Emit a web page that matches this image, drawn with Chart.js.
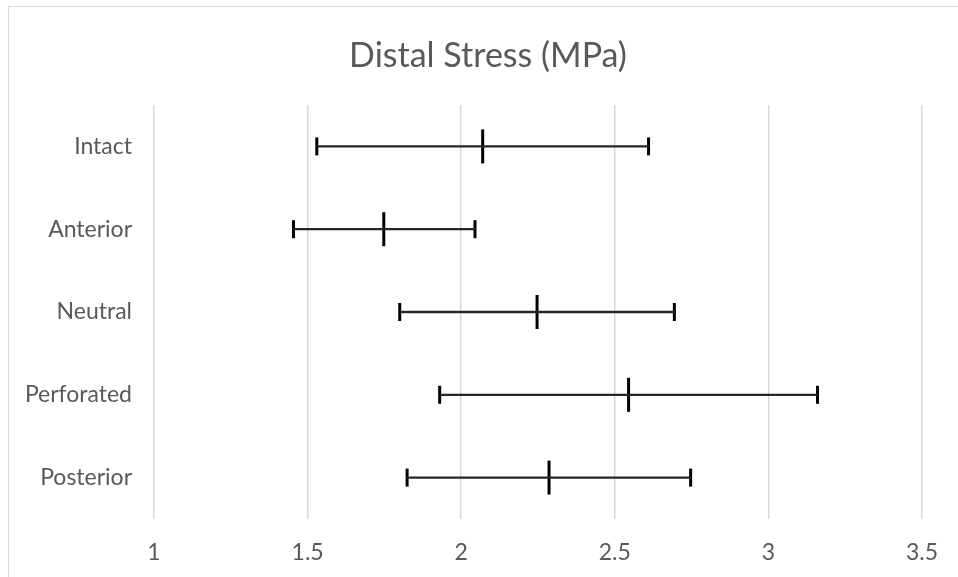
<!DOCTYPE html>
<html>
<head>
<meta charset="utf-8">
<title>Distal Stress</title>
<script src="https://cdn.jsdelivr.net/npm/chart.js@4"></script>
<style>
    html, body { margin: 0; padding: 0; background: #fff; overflow: hidden; }
    #wrap { position: relative; width: 958px; height: 577px; }
    #frame {
        position: absolute; left: 8px; top: 6px; width: 1000px; height: 1000px;
        border: 1px solid #d9d9d9; pointer-events: none;
    }
</style>
</head>
<body>
<div id="wrap">
    <canvas id="stressChart" width="958" height="577"></canvas>
    <div id="frame"></div>
</div>
<script>
// 원위부 응력 (MPa) - 최소 / 평균 / 최대
const categories = ['Intact', 'Anterior', 'Neutral', 'Perforated', 'Posterior'];
const minValues  = [1.53, 1.454, 1.80, 1.93, 1.824];
const meanValues = [2.07, 1.748, 2.247, 2.545, 2.286];
const maxValues  = [2.61, 2.045, 2.694, 3.16, 2.747];

const axisMin = 1;
const axisMax = 3.5;
const axisStep = 0.5;

const chartTitle = 'Distal Stress (MPa)';
const textColor = '#595959';
const fontFamily = 'Lato, "Open Sans", sans-serif';

// 범위 막대 (최소~최대)
const ranges = categories.map((c, i) => [minValues[i], maxValues[i]]);

// 수직 눈금 표시용 포인트 데이터셋
function tickSet(label, data, halfLength) {
    return {
        type: 'line',
        label: label,
        data: data,
        showLine: false,
        pointStyle: 'line',
        rotation: 90,
        pointRadius: halfLength,
        pointHoverRadius: halfLength,
        pointBorderWidth: 3,
        pointBorderColor: '#000',
        pointBackgroundColor: '#000'
    };
}

// 제목은 바깥 테두리 기준 가운데에 직접 그림
const frameTitle = {
    id: 'frameTitle',
    afterDraw(chart) {
        const c = chart.ctx;
        c.save();
        c.fillStyle = textColor;
        c.font = '34px ' + fontFamily;
        c.textAlign = 'center';
        c.textBaseline = 'middle';
        c.fillText(chartTitle, 488, 56);
        c.restore();
    }
};

const ctx = document.getElementById('stressChart').getContext('2d');
new Chart(ctx, {
    type: 'bar',
    data: {
        labels: categories,
        datasets: [
            {
                label: 'Range',
                data: ranges,
                backgroundColor: '#262626',
                barThickness: 1.6,
                borderSkipped: false
            },
            tickSet('Min', minValues, 9),
            tickSet('Max', maxValues, 9),
            tickSet('Mean', meanValues, 17)
        ]
    },
    plugins: [frameTitle],
    options: {
        indexAxis: 'y',
        responsive: false,
        animation: false,
        layout: { padding: { left: 0, right: 34, top: 105, bottom: 0 } },
        plugins: {
            legend: { display: false },
            tooltip: { enabled: false },
            title: { display: false }
        },
        scales: {
            x: {
                type: 'linear',
                min: axisMin,
                max: axisMax,
                ticks: {
                    stepSize: axisStep,
                    color: textColor,
                    font: { family: fontFamily, size: 23 },
                    padding: 20,
                    callback: (v) => String(v)
                },
                grid: {
                    color: '#d9d9d9',
                    lineWidth: 1.5,
                    drawTicks: false
                },
                border: { display: false },
                afterFit: (scale) => { scale.height = 58; }
            },
            y: {
                type: 'category',
                ticks: {
                    color: textColor,
                    font: { family: fontFamily, size: 23 },
                    padding: 14
                },
                grid: { display: false },
                border: { display: false },
                afterFit: (scale) => { scale.width = 154; }
            }
        }
    }
});
</script>
</body>
</html>
